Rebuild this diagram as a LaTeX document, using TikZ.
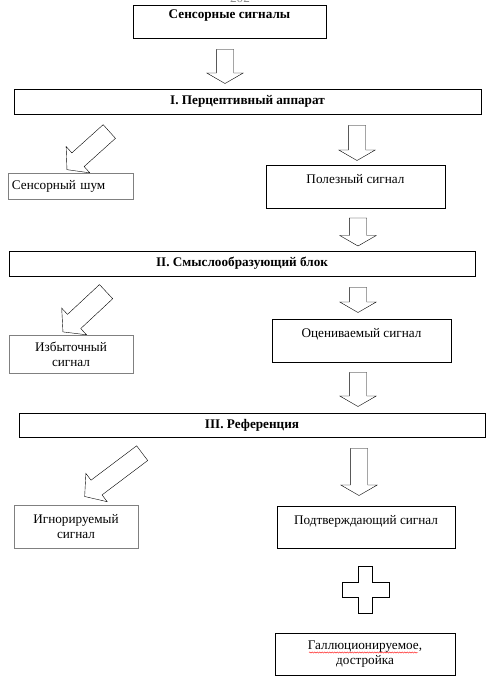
\documentclass[tikz,border=0pt]{standalone}
\usepackage{fontspec}
\setmainfont{Liberation Serif}
\usetikzlibrary{shapes.arrows, decorations.pathmorphing}

\begin{document}
\begin{tikzpicture}[x=1pt, y=-1pt,
		font=\fontsize{13.2}{15}\selectfont,
		box/.style={draw, align=center, inner sep=0pt},
		greybox/.style={box, draw=black!50},
		blk/.style={single arrow, draw, inner xsep=0pt, inner ysep=8.5pt,
			single arrow head extend=9.5pt, single arrow tip angle=120},
		diag/.style={blk, inner ysep=9pt, single arrow head extend=8.5pt, single arrow tip angle=100}]
		\useasboundingbox (0,0) rectangle (494,688);

		\node[text=black!45, anchor=base] (pagina) at (240,2.5) {202};

		\node[box, minimum width=193, minimum height=33] (Sensornye signaly) at (229.5,21.5) {\textbf{Сенсорные сигналы}\\ \mbox{}};
		\node[blk, rotate=-90, minimum height=34] (f1) at (225,64) {};
		\node[box, minimum width=467, minimum height=25] (Pertseptivnyj) at (247.5,101.5) {\textbf{I. Перцептивный аппарат}};

		\node[diag, rotate=222, minimum height=57] (d1) at (91,148) {};
		\node[greybox, minimum width=125, minimum height=26, text width=117, align=left] (Shum) at (70.5,186) {Сенсорный шум};
		\node[blk, rotate=-90, minimum height=35] (f2) at (357,140.5) {};
		\node[box, minimum width=179, minimum height=43] (Poleznyj) at (355.5,186.5) {Полезный сигнал\\ \mbox{}};
		\node[blk, rotate=-90, minimum height=28] (f3) at (358,229.5) {};

		\node[box, minimum width=466, minimum height=25] (Smysl) at (242,263.5) {\textbf{II. Смыслообразующий блок}};

		\node[diag, rotate=223, minimum height=59, inner ysep=9.5pt] (d2) at (87.5,309) {};
		\node[greybox, minimum width=124, minimum height=38] (Izbytochnyj) at (71,354) {Избыточный\\ сигнал};
		\node[blk, rotate=-90, minimum height=25] (f4) at (358,297.5) {};
		\node[box, minimum width=179, minimum height=43] (Otsenivaemyj) at (361.5,340.5) {Оцениваемый сигнал\\ \mbox{}};
		\node[blk, rotate=-90, minimum height=34] (f5) at (358,387) {};

		\node[box, minimum width=466, minimum height=24] (Referentsiya) at (252,425) {\textbf{III. Референция}};

		\node[diag, rotate=217, minimum height=72] (d3) at (116.5,472.5) {};
		\node[greybox, minimum width=124, minimum height=43] (Ignoriruemyj) at (76,526.5) {Игнорируемый\\ сигнал};
		\node[blk, rotate=-90, minimum height=47] (f6) at (359,469.5) {};
		\node[box, minimum width=178, minimum height=42] (Podtverzhdayushchij) at (366,527) {Подтверждающий сигнал\\ \mbox{}};

		% plus
		\draw (358,566) -- (372,566) -- (372,582) -- (389,582) -- (389,597) -- (372,597)
			-- (372,613) -- (358,613) -- (358,597) -- (342,597) -- (342,582) -- (358,582) -- cycle;

		\node[box, minimum width=180, minimum height=42] (Gallyutsiniruemoe) at (365,654) {Галлюционируемое,\\ достройка};
		\draw[red, decorate, decoration={snake, amplitude=0.6pt, segment length=2.5pt}] (309,652.5) -- (418,652.5);
	\end{tikzpicture}
\end{document}
